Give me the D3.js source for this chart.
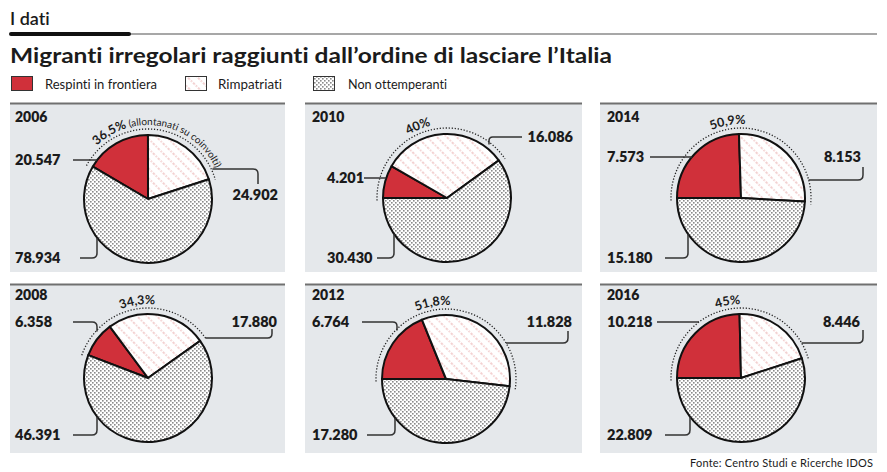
<!DOCTYPE html>
<html><head><meta charset="utf-8">
<script src="https://cdn.jsdelivr.net/npm/d3@7"></script>
<style>body{margin:0;background:#fff;} svg{display:block;font-family:Lato,"Open Sans",sans-serif;font-variant-ligatures:none;font-feature-settings:"liga" 0;}</style>
</head><body><svg id="c" width="887" height="472"></svg>
<script>
// ---- DATA ----
const years = ["2006", "2008", "2010", "2012", "2014", "2016"];
const seriesNames = ["Respinti in frontiera", "Rimpatriati", "Non ottemperanti"];
const respinti = [20547, 6358, 4201, 6764, 7573, 10218];
const rimpatriati = [24902, 17880, 16086, 11828, 8153, 8446];
const nonOttemperanti = [78934, 46391, 30430, 17280, 15180, 22809];
const pctLabels = ["36,5%", "34,3%", "40%", "51,8%", "50,9%", "45%"];
const pctNotes = ["(allontanati su coinvolti)", "", "", "", "", ""];
const headerText = "I dati";
const titleText = "Migranti irregolari raggiunti dall\u2019ordine di lasciare l\u2019Italia";
const sourceText = "Fonte: Centro Studi e Ricerche IDOS";

// ---- LAYOUT ----
const W = 887, H = 472;
const colX = [10, 305, 600], colW = [275, 277, 277];
const rowY = [103, 284], rowH = [169, 169];
const panelPos = [
  {col:0,row:0,cx:138,cy:96,start:-59.5,textAngle:11},
  {col:0,row:1,cx:138,cy:94,start:-69,textAngle:-8},
  {col:1,row:0,cx:142,cy:95,start:-90,textAngle:-22},
  {col:1,row:1,cx:141,cy:95,start:-90,textAngle:-10},
  {col:2,row:0,cx:141,cy:95,start:-90,textAngle:-10},
  {col:2,row:1,cx:141,cy:94,start:-90,textAngle:-10}
];
const yearY = [19, 16];
const R = 64;
const leaderLayout = [
 [ {tx:-133,ty:-39,anchor:'start',mode:'h',x0:-75,ra:64},
   {tx:130,ty:-4,anchor:'end',mode:'vh',ex:110,y0:-15,ey:-30,ra:71},
   {tx:-133,ty:59,anchor:'start',mode:'hv',x0:-68,ex:-51,ra:64} ],
 [ {tx:-133,ty:-56,anchor:'start',mode:'hv',x0:-75,ex:-51,ra:69},
   {tx:129,ty:-56,anchor:'end',mode:'vh',ex:124,y0:-49,ey:-40,ra:70},
   {tx:-133,ty:57,anchor:'start',mode:'hv',x0:-75,ex:-51,ra:64} ],
 [ {tx:-120,ty:-20,anchor:'start',mode:'h',x0:-83,ra:64},
   {tx:126,ty:-61,anchor:'end',mode:'hv',x0:75,ex:42,ra:68},
   {tx:-120,ty:60,anchor:'start',mode:'hv',x0:-70,ex:-53,ra:64} ],
 [ {tx:-134,ty:-57,anchor:'start',mode:'hv',x0:-84,ex:-49,ra:69},
   {tx:126,ty:-57,anchor:'end',mode:'vh',ex:122,y0:-48,ey:-36,ra:70},
   {tx:-134,ty:56,anchor:'start',mode:'hv',x0:-79,ex:-51,ra:64} ],
 [ {tx:-134,ty:-41,anchor:'start',mode:'h',x0:-91,ra:64},
   {tx:120,ty:-41,anchor:'end',mode:'vh',ex:122,y0:-31,ey:-18,ra:70},
   {tx:-134,ty:60,anchor:'start',mode:'hv',x0:-76,ex:-53,ra:64} ],
 [ {tx:-134,ty:-56,anchor:'start',mode:'h',x0:-84,ra:70},
   {tx:119,ty:-56,anchor:'end',mode:'vh',ex:122,y0:-48,ey:-35,ra:70},
   {tx:-134,ty:57,anchor:'start',mode:'hv',x0:-76,ex:-51,ra:64} ]
];

const RED = "#d0303a", INK = "#1b1b1b", PANEL = "#e5e8eb";
const it = d3.formatLocale({decimal:",", thousands:".", grouping:[3], currency:["","\u20ac"]});
const fmt = it.format(",");

const svg = d3.select("#c");
const defs = svg.append("defs");
// hatch pattern (Rimpatriati)
const hp = defs.append("pattern").attr("id","hatch").attr("patternUnits","userSpaceOnUse")
  .attr("width",7).attr("height",7).attr("patternTransform","rotate(-45)");
hp.append("rect").attr("width",7).attr("height",7).attr("fill","#fff");
hp.append("line").attr("x1",1).attr("y1",0).attr("x2",1).attr("y2",7)
  .attr("stroke","#e8a4a4").attr("stroke-width",1).attr("stroke-dasharray","1.5 1.5");
// dots pattern (Non ottemperanti)
const dp = defs.append("pattern").attr("id","dots").attr("patternUnits","userSpaceOnUse")
  .attr("width",4).attr("height",4);
dp.append("rect").attr("width",4).attr("height",4).attr("fill","#fff");
dp.append("rect").attr("x",0).attr("y",0).attr("width",1.6).attr("height",1.6).attr("fill","#8a8a8a");
dp.append("rect").attr("x",2).attr("y",2).attr("width",1.6).attr("height",1.6).attr("fill","#8a8a8a");
const fills = [RED, "url(#hatch)", "url(#dots)"];

// ---- HEADER ----
svg.append("text").attr("x",10).attr("y",25).attr("font-size",18).attr("font-weight",600)
  .attr("fill",INK).text(headerText);
svg.append("line").attr("x1",130).attr("x2",877).attr("y1",34).attr("y2",34)
  .attr("stroke","#8a8a8a").attr("stroke-width",1.5);
svg.append("line").attr("x1",11).attr("x2",129).attr("y1",34).attr("y2",34)
  .attr("stroke","#111").attr("stroke-width",4).attr("stroke-linecap","round");
svg.append("text").attr("x",10).attr("y",63).attr("font-size",21).attr("font-weight",700)
  .attr("fill",INK).attr("textLength",602).attr("lengthAdjust","spacingAndGlyphs").text(titleText);

// ---- LEGEND ----
const legX = [11, 185, 313], legTX = [45, 218, 348], legTW = [112, 64, 99];
seriesNames.forEach((n,i)=>{
  svg.append("rect").attr("x",legX[i]+0.5).attr("y",76.5).attr("width",21).attr("height",14)
    .attr("fill",fills[i]).attr("stroke","#333").attr("stroke-width",1);
  svg.append("text").attr("x",legTX[i]).attr("y",89).attr("font-size",13).attr("fill",INK)
    .attr("textLength",legTW[i]).attr("lengthAdjust","spacingAndGlyphs").text(n);
});

// ---- PANELS ----
const rad = d => d*Math.PI/180;
const pt = (r,a) => [r*Math.sin(a), -r*Math.cos(a)];
function arcPath(r,a0,a1){
  const p0 = pt(r,a0), p1 = pt(r,a1);
  return `M${p0[0]},${p0[1]}A${r},${r} 0 ${a1-a0>Math.PI?1:0} 1 ${p1[0]},${p1[1]}`;
}
function roundPoly(pts, cr){
  let d = `M${pts[0][0]},${pts[0][1]}`;
  for(let i=1;i<pts.length-1;i++){
    const [a,b,c] = [pts[i-1],pts[i],pts[i+1]];
    const l1 = Math.hypot(b[0]-a[0],b[1]-a[1]), l2 = Math.hypot(c[0]-b[0],c[1]-b[1]);
    const r = Math.min(cr, l1/2, l2/2);
    const s = [b[0]-(b[0]-a[0])/l1*r, b[1]-(b[1]-a[1])/l1*r];
    const e = [b[0]+(c[0]-b[0])/l2*r, b[1]+(c[1]-b[1])/l2*r];
    d += `L${s[0]},${s[1]}Q${b[0]},${b[1]} ${e[0]},${e[1]}`;
  }
  const z = pts[pts.length-1];
  return d + `L${z[0]},${z[1]}`;
}
const arcGen = d3.arc().innerRadius(0).outerRadius(R);

years.forEach((yr,i)=>{
  const p = panelPos[i];
  const px = colX[p.col], py = rowY[p.row];
  const g = svg.append("g").attr("transform",`translate(${px},${py})`);
  g.append("rect").attr("width",colW[p.col]).attr("height",rowH[p.row]).attr("fill",PANEL);
  g.append("line").attr("x1",0).attr("x2",colW[p.col]).attr("y1",0.5).attr("y2",0.5)
    .attr("stroke","#707070").attr("stroke-width",2);
  g.append("text").attr("x",p.col===0?5:7).attr("y",yearY[p.row]).attr("font-size",14)
    .attr("font-weight",800).attr("fill",INK).text(yr);

  const vals = [respinti[i], rimpatriati[i], nonOttemperanti[i]];
  const s = rad(p.start);
  const pie = d3.pie().sort(null).value(d=>d).startAngle(s).endAngle(s+2*Math.PI);
  const arcs = pie(vals);
  const c = g.append("g").attr("transform",`translate(${p.cx},${p.cy})`);

  // dotted arc over respinti + rimpatriati
  const a0 = arcs[0].startAngle - rad(2), a1 = arcs[1].endAngle + rad(2);
  c.append("path").attr("d",arcPath(70,a0,a1)).attr("fill","none")
    .attr("stroke","#222").attr("stroke-width",1.3).attr("stroke-dasharray","1.2 1.8");
  // percent label on curved path
  const ta = rad(p.textAngle);
  c.append("path").attr("id","tp"+i).attr("d",arcPath(74,ta-Math.PI/2,ta+Math.PI/2))
    .attr("fill","none");
  const t = c.append("text").attr("fill",INK);
  const tpath = t.append("textPath").attr("href","#tp"+i).attr("startOffset","50%")
    .attr("text-anchor","middle");
  tpath.append("tspan").attr("font-size",12.5).attr("font-weight",700).text(pctLabels[i]);
  if(pctNotes[i]) tpath.append("tspan").attr("font-size",10).attr("font-weight",400).text(" "+pctNotes[i]);

  c.selectAll("path.sl").data(arcs).join("path").attr("class","sl")
    .attr("d",arcGen).attr("fill",(d,j)=>fills[j])
    .attr("stroke","#111").attr("stroke-width",2).attr("stroke-linejoin","round");

  // leaders + value labels
  leaderLayout[i].forEach((L,j)=>{
    let pts;
    if(L.mode==='h'){
      pts = [[L.x0,L.ty],[-Math.sqrt(L.ra*L.ra-L.ty*L.ty),L.ty]];
    } else if(L.mode==='hv'){
      pts = [[L.x0,L.ty],[L.ex,L.ty],[L.ex,Math.sign(L.ty)*Math.sqrt(L.ra*L.ra-L.ex*L.ex)]];
    } else {
      pts = [[L.ex,L.y0],[L.ex,L.ey],[Math.sign(L.ex)*Math.sqrt(L.ra*L.ra-L.ey*L.ey),L.ey]];
    }
    c.append("path").attr("d",roundPoly(pts,5)).attr("fill","none")
      .attr("stroke","#333").attr("stroke-width",1.5);
    c.append("text").attr("x",L.tx).attr("y",L.ty).attr("dy","0.36em")
      .attr("text-anchor",L.anchor).attr("font-size",14.5).attr("font-weight",800)
      .attr("fill",INK).text(fmt(vals[j]));
  });
});

// ---- SOURCE ----
svg.append("text").attr("x",873).attr("y",467).attr("text-anchor","end").attr("font-size",11)
  .attr("fill",INK).attr("textLength",183).attr("lengthAdjust","spacing").text(sourceText);
</script></body></html>
